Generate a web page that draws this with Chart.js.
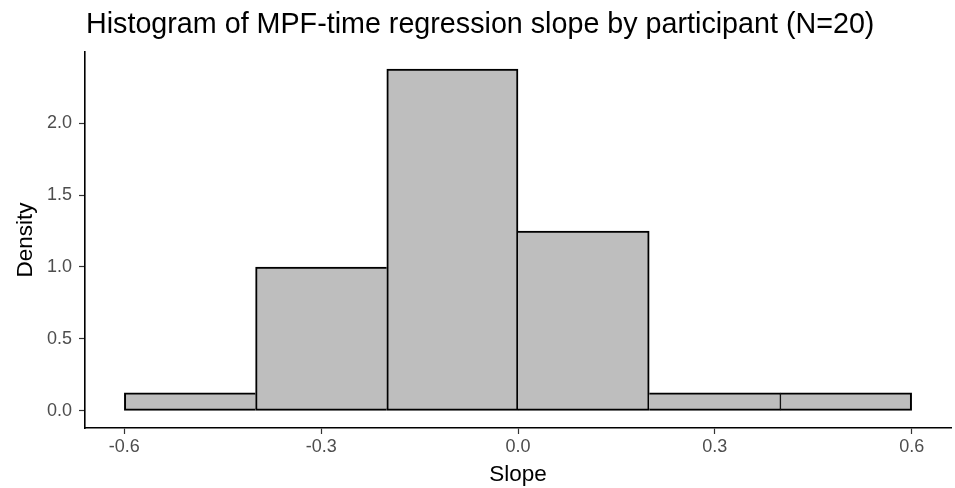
<!DOCTYPE html>
<html>
<head>
<meta charset="utf-8">
<script src="https://cdn.jsdelivr.net/npm/chart.js@4"></script>
<style>
  body { margin: 0; background: #fff; }
  #wrap { position: relative; width: 955px; height: 488px; }
  #titulo {
    position: absolute; left: 86px; top: 9px;
    font-family: "Liberation Sans", Arial, sans-serif; font-size: 28.7px; line-height: 1; color: #000;
    white-space: nowrap;
  }
</style>
</head>
<body>
<div id="wrap">
  <div id="titulo">Histogram of MPF-time regression slope by participant (N=20)</div>
  <canvas id="grafico" width="955" height="488"></canvas>
</div>
<script>
// bins de 0.2 entre -0.6 e 0.6 (centros)
const binCenters = [-0.5, -0.3, -0.1, 0.1, 0.3, 0.5]
const densities = [0.125, 1.0, 2.375, 1.25, 0.125, 0.125]
const xTicks = [-0.6, -0.3, 0.0, 0.3, 0.6]
const yTicks = [0.0, 0.5, 1.0, 1.5, 2.0]

const fonte = "'Liberation Sans', Arial, sans-serif"

// a barra mais alta desenha a divisa inteira, assim a linha fica com 2px
function lado(i, vizinho) {
    if (vizinho < 0 || vizinho >= densities.length) return 2
    if (densities[i] > densities[vizinho]) return 2
    if (densities[i] < densities[vizinho]) return 0
    return 1
}

const grafico = document.getElementById("grafico")

new Chart(grafico, {
    type: "bar",
    data: {
        datasets: [{
            label: "density",
            data: binCenters.map((x, i) => ({ x: x, y: densities[i] })),
            backgroundColor: "#BEBEBE",
            borderColor: "#000000",
            borderSkipped: false,
            borderWidth: (ctx) => ({
                top: 2,
                bottom: 2,
                left: lado(ctx.dataIndex, ctx.dataIndex - 1),
                right: lado(ctx.dataIndex, ctx.dataIndex + 1)
            }),
            barPercentage: 1,
            categoryPercentage: 1
        }]
    },
    options: {
        responsive: false,
        animation: false,
        layout: { padding: { top: 52, right: 4, left: 0, bottom: 0 } },
        plugins: {
            legend: { display: false },
            tooltip: { enabled: false }
        },
        scales: {
            x: {
                type: "linear",
                offset: false,
                min: -0.66,
                max: 0.66,
                afterBuildTicks: (scale) => { scale.ticks = xTicks.map(v => ({ value: v })) },
                afterFit: (scale) => { scale.height = 60 },
                border: { display: true, color: "#000000", width: 1.6 },
                grid: { display: true, drawOnChartArea: false, drawTicks: true, tickLength: 6, tickColor: "#333333", tickWidth: 1.2, offset: false },
                ticks: {
                    padding: 2,
                    color: "#4D4D4D",
                    font: { family: fonte, size: 18 },
                    maxRotation: 0,
                    callback: (v) => Number(v).toFixed(1)
                },
                title: {
                    display: true,
                    text: "Slope",
                    color: "#000000",
                    font: { family: fonte, size: 22.5 },
                    padding: { top: 0, bottom: 0 }
                }
            },
            y: {
                min: -0.119,
                max: 2.494,
                afterBuildTicks: (scale) => { scale.ticks = yTicks.map(v => ({ value: v })) },
                afterFit: (scale) => { scale.width = 85 },
                border: { display: true, color: "#000000", width: 1.6 },
                grid: { display: true, drawOnChartArea: false, drawTicks: true, tickLength: 6, tickColor: "#333333", tickWidth: 1.2 },
                ticks: {
                    padding: 7,
                    color: "#4D4D4D",
                    font: { family: fonte, size: 18 },
                    callback: (v) => Number(v).toFixed(1)
                },
                title: {
                    display: true,
                    text: "Density",
                    color: "#000000",
                    font: { family: fonte, size: 22.5 },
                    padding: { top: 12, bottom: 0 }
                }
            }
        }
    }
})
</script>
</body>
</html>
